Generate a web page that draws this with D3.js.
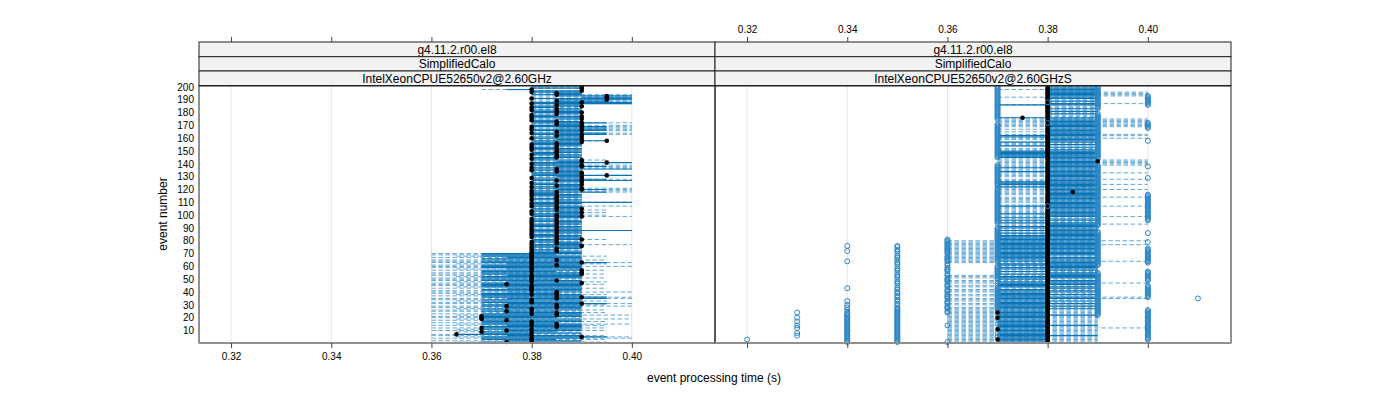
<!DOCTYPE html>
<html><head><meta charset="utf-8">
<script src="https://cdn.jsdelivr.net/npm/d3@7"></script>
<style>body{margin:0;background:#fff}svg{display:block}text{font-family:"Liberation Sans",Arial,Helvetica,sans-serif}</style>
</head><body><svg id="c" width="1400" height="400"></svg>
<script>
// ---------------- DATA (times in ms) ----------------
const eventNumbers = d3.range(1, 201);
const stripRelease = ["g4.11.2.r00.el8", "g4.11.2.r00.el8"];
const stripApp = ["SimplifiedCalo", "SimplifiedCalo"];
const stripCpu = ["IntelXeonCPUE52650v2@2.60GHz", "IntelXeonCPUE52650v2@2.60GHzS"];
const xTicks = [0.32, 0.34, 0.36, 0.38, 0.40];
const yTicks = [10,20,30,40,50,60,70,80,90,100,110,120,130,140,150,160,170,180,190,200];
const xLabel = "event processing time (s)";
const yLabel = "event number";

// Left panel: dashed range (min..max), solid range (q1..q3), median point
const leftMin = [365,360,370,360,365,360,360,370,365,360, 365,360,370,360,365,360,370,360,365,360, 360,365,360,370,360,360,365,360,360,370, 360,360,365,360,360,370,360,365,360,360, 360,370,360,365,360,360,360,365,360,360, 360,365,360,360,360,370,360,365,360,360, 360,365,360,360,360,370,360,365,360,360,
 380,380,380,380,380,380,380,380,380,380, 380,380,380,380,380,380,380,380,380,380, 380,380,380,380,380,380,380,380,380,380, 380,380,380,380,380,380,380,380,380,380, 380,380,380,380,380,380,380,380,380,380, 380,380,380,380,380,380,380,380,380,380, 380,380,380,380,380,380,380,380,380,380, 380,380,380,380,380,380,380,380,380,380, 380,380,380,380,380,380,380,380,380,380, 380,380,380,380,380,380,380,380,380,380, 380,380,380,380,380,380,380,380,380,380, 380,380,380,380,380,380,380,380,380,380, 380,380,380,380,380,380,380,370,380,380];
const leftQ1 = [370,375,370,370,370,375,365,370,370,375, 370,370,370,375,370,370,370,370,370,370, 370,370,370,375,370,370,370,375,370,370, 375,370,370,370,375,370,370,370,370,375, 370,370,375,370,370,370,370,375,370,370, 370,370,375,370,370,370,370,375,370,370, 370,375,370,370,370,370,375,370,370,370,
 380,380,380,385,380,380,380,385,380,380, 380,385,380,380,380,385,380,380,380,385, 380,380,380,385,380,380,380,385,380,380, 380,385,380,380,380,385,380,380,380,380, 385,380,380,385,380,380,380,380,380,385, 380,380,385,380,380,385,380,380,380,385, 380,380,380,385,380,380,380,385,380,380, 380,385,380,380,380,385,380,380,380,385, 380,380,380,385,380,380,380,380,385,380, 380,385,380,380,385,380,380,385,380,380, 385,380,380,380,385,380,380,380,385,380, 380,380,385,380,380,385,380,380,385,385, 380,390,385,380,385,380,380,375,380,380];
const leftMed = [375,380,380,380,390,380,365,380,370,375, 380,370,385,380,385,380,380,375,370,370, 370,385,380,385,375,380,380,385,375,385, 390,380,380,380,385,390,385,380,385,385, 380,380,380,380,380,375,390,380,385,380, 380,380,380,390,390,380,390,380,380,380, 385,380,390,380,385,380,380,380,380,380,
 380,385,380,385,380,390,380,385,380,385, 390,385,380,385,380,385,380,385,380,385, 380,385,380,385,380,385,380,385,390,385, 380,390,380,385,390,385,380,385,380,385, 385,380,385,385,380,385,380,385,380,390, 390,380,385,390,380,390,385,390,380,390, 395,390,390,385,380,385,380,390,390,380, 395,390,390,380,385,385,380,385,385,385, 380,385,380,385,380,385,390,395,390,380, 390,385,390,380,385,390,380,390,380,390, 385,390,385,380,390,380,390,380,385,390, 385,380,385,380,390,385,380,390,385,395, 380,395,395,385,385,380,390,380,390,390];
const leftQ3 = [390,390,385,390,395,390,380,390,385,390, 390,390,390,390,390,385,390,390,390,385, 390,390,390,390,385,390,390,390,390,390, 395,390,390,390,395,395,390,390,385,390, 390,390,390,390,390,390,390,390,390,385, 390,390,390,390,390,385,390,390,390,390, 390,390,395,390,390,390,390,390,385,390,
 390,390,385,390,390,390,390,390,390,385, 390,390,390,390,385,390,390,400,390,390, 390,385,390,390,390,390,385,390,390,390, 390,390,390,390,390,390,390,385,390,400, 390,390,385,390,390,390,385,395,390,395, 390,390,390,390,385,390,400,395,390,390, 400,390,390,390,390,400,390,395,390,390, 400,390,390,385,390,390,390,385,390,390, 390,390,385,390,390,390,390,395,390,390, 390,390,395,395,390,395,395,395,395,390, 390,395,390,385,390,390,390,385,390,390, 390,390,390,385,390,390,400,400,395,400, 400,400,400,390,390,390,390,380,390,390];
const leftMax = [395,390,395,400,400,395,390,390,390,395, 390,395,390,395,400,390,395,390,400,390, 390,400,390,395,390,395,390,390,400,395, 400,390,395,390,400,400,390,395,390,400, 390,390,395,390,390,395,390,395,390,390, 395,390,390,395,390,390,395,390,390,400, 390,395,400,390,395,390,390,395,390,390,
 390,390,390,390,390,390,400,390,390,390, 395,390,390,390,390,390,390,400,390,390, 390,390,390,390,390,390,390,390,400,395, 390,395,390,395,390,390,400,390,390,400, 390,390,390,390,390,390,390,400,400,400, 400,390,390,390,390,390,400,400,390,390, 400,390,390,390,390,400,400,400,400,390, 400,390,395,390,390,390,390,390,390,390, 390,390,390,390,390,390,390,395,390,390, 390,390,400,400,390,400,400,400,400,400, 390,400,390,390,390,390,390,390,390,390, 390,390,390,390,390,390,400,400,400,400, 400,400,400,400,390,390,390,380,390,390];

// Right panel
const rightMin = [360,360,360,360,360,360,360,360,360,360, 360,360,360,360,360,360,360,360,360,360, 360,360,360,360,360,360,360,360,370,360, 360,370,360,360,360,370,360,360,370,360, 360,360,370,360,360,370,360,360,360,370, 360,360,360,370,370,370,370,370,370,370, 370,370,360,360,360,360,360,360,360,360, 360,360,360,360,360,360,360,360,360,360,
 370,370,370,370,370,370,370,370,370,370, 370,370,370,370,370,370,370,370,370,370, 370,370,370,370,370,370,370,370,380,370, 370,370,370,370,380,370,370,370,370,370, 370,370,370,370,370,370,370,370,380,370, 370,370,370,370,370,370,370,370,370,370, 370,370,370,370,370,370,370,370,370,370, 370,370,380,370,370,370,370,380,370,370, 370,370,370,380,370,380,370,380,370,370, 370,370,370,370,370,370,380,380,380,380, 380,380,380,380,380,370,380,380,380,380, 380,370,380,380,380,380,380,370,380,380];
const rightQ1 = [370,370,370,370,370,370,370,370,370,370, 370,370,370,370,370,370,370,370,370,370, 370,370,370,370,370,370,370,370,370,370, 370,370,370,370,370,370,370,370,370,370, 370,370,380,370,370,370,370,370,380,370, 370,370,380,370,380,370,380,370,370,380, 370,370,380,370,370,370,370,370,370,370, 370,370,370,370,370,370,370,370,370,370,
 370,370,370,370,380,370,380,370,380,370, 370,380,380,370,380,370,380,370,380,380, 370,380,380,380,380,380,370,380,380,380, 380,380,380,380,380,380,380,380,380,380, 380,370,380,370,370,370,380,380,380,380, 380,380,380,370,380,380,370,380,380,380, 380,380,380,380,370,370,370,370,370,370, 380,380,380,370,380,380,370,380,380,380, 370,370,380,380,380,380,380,380,380,380, 380,380,380,380,380,370,380,380,380,380, 380,380,380,380,380,370,380,380,380,380, 380,380,380,380,380,380,380,380,380,380];
const rightMed = [380,380,370,380,380,380,380,380,380,380, 370,380,380,380,380,380,380,380,380,370, 380,380,380,370,380,380,380,380,380,380, 380,380,380,380,380,380,380,380,380,380, 380,380,380,380,380,380,380,380,380,380, 380,380,380,380,380,380,380,380,380,380, 380,380,380,380,380,380,380,380,380,380, 380,380,380,380,380,380,380,380,380,380,
 380,380,380,380,380,380,380,380,380,380, 380,380,380,380,380,380,380,380,380,380, 380,380,380,380,380,380,380,380,380,380, 380,380,380,380,380,380,380,385,380,380, 380,380,380,380,380,380,380,380,380,380, 380,380,380,380,380,380,380,380,380,380, 380,390,380,380,380,380,380,380,380,380, 380,380,380,380,380,380,380,380,380,380, 380,380,380,380,380,380,380,380,380,380, 380,380,380,380,380,375,380,380,380,380, 380,380,380,380,380,380,380,380,380,380, 380,380,380,380,380,380,380,380,380,380];
const rightQ3 = [380,380,380,380,380,390,380,380,380,380, 380,380,380,390,380,380,380,380,380,380, 380,390,380,380,380,380,390,380,390,380, 390,380,390,380,390,390,380,390,380,390, 390,380,390,390,380,390,390,390,390,380, 390,390,390,390,390,380,390,390,390,390, 390,390,390,390,390,390,390,380,390,390, 390,390,390,390,390,390,390,390,390,390,
 390,390,390,390,390,390,390,390,390,390, 390,390,390,390,380,390,390,380,390,390, 390,390,390,390,390,390,390,390,390,390, 390,390,390,390,390,390,390,390,390,390, 390,390,390,390,390,390,390,390,390,390, 390,390,390,390,390,390,390,390,390,390, 390,390,390,390,390,390,390,390,390,390, 390,380,390,380,390,380,390,390,390,390, 390,390,390,390,390,390,390,390,390,390, 390,390,390,390,390,390,380,380,390,380, 390,380,390,380,380,390,390,380,390,380, 390,390,390,390,390,390,390,390,390,390];
const rightMax = [390,390,390,390,390,390,390,390,390,390, 390,400,390,390,390,390,390,390,390,390, 390,390,390,390,390,390,390,390,390,390, 390,390,390,390,400,400,390,390,390,390, 390,390,390,390,390,390,400,390,390,390, 390,390,390,390,390,390,390,390,390,390, 390,390,390,400,390,390,390,390,390,390, 390,390,390,390,390,390,400,390,390,400,
 390,390,390,390,390,390,390,390,390,390, 390,390,400,390,390,390,390,390,400,390, 390,390,390,390,390,390,400,390,390,390, 390,390,390,400,390,390,390,390,390,400, 390,390,390,400,390,390,390,400,390,390, 390,390,400,390,390,390,390,390,400,400, 400,400,400,390,390,390,390,390,390,390, 390,390,390,390,390,390,390,390,390,400, 390,400,400,390,390,390,390,390,400,400, 400,400,400,400,400,390,390,390,390,390, 390,390,390,390,390,390,400,390,390,390, 390,390,400,400,400,400,390,390,390,390];

// Right panel: events with an individual (open circle) time value, per value
const circles320 = [3];
const circles330 = [6,8,12,14,17,20,24];
const circles340 = [1,2,3,4,5,6,7,8,9,10,11,12,13,14,15,16,17,18,19,20,21,22,23,24,26,28,30,33,43,64,72,76];
const circles350 = [1,2,3,4,5,6,7,8,9,10,11,12,13,14,15,16,17,18,19,20,21,22,23,24,25,26,27,28,30,31,33,34,36,37,39,40,42,43,45,47,48,50,52,53,55,57,58,60,62,63,65,67,68,70,72,73,75,76];
const circles360 = [1,14,24,25,27,28,29,31,32,33,35,36,37,38,40,41,42,44,45,46,48,49,50,51,53,54,56,57,58,59,61,62,64,65,66,67,68,70,71,72,73,74,75,76,77,78,79,80,81];
const circles370 = [5,8,15,19,23,26,27,28,29,30,31,32,33,34,35,36,37,38,39,40,41,42,43,45,47,50,51,52,53,54,55,56,57,58,59,60,64,65,66,67,68,69,70,71,72,73,74,75,76,77,78,79,80,81,82,83,84,85,86,87,88,89,90,94,95,96,97,98,99,100,101,102,103,104,105,106,107,108,109,110,111,112,113,114,115,116,117,118,119,120,121,123,124,125,126,127,128,129,130,131,132,133,134,135,136,137,138,139,145,146,147,148,149,150,151,152,153,154,155,156,157,158,159,160,161,162,163,164,165,166,167,168,169,170,171,175,176,177,178,179,180,181,182,183,184,185,186,187,188,189,190,191,192,193,194,195,196,197,198,199,200];
const circles380 = [107,172,188];
const circles390 = [22,23,24,25,26,27,28,29,30,31,32,33,34,35,36,37,38,39,40,41,42,43,44,45,46,47,48,49,50,51,52,53,54,55,61,62,63,64,65,66,67,68,69,70,71,72,73,74,75,76,77,78,79,80,81,82,83,84,85,86,87,92,93,94,95,96,97,98,99,100,101,102,103,104,105,106,107,108,109,110,111,112,113,114,115,116,117,118,119,120,121,122,123,124,125,126,127,128,129,130,131,132,133,134,135,136,137,138,139,144,145,146,147,148,149,150,151,152,153,154,155,156,157,158,159,160,161,162,163,164,165,166,167,168,169,170,171,172,173,174,175,176,177,178,179,183,184,185,186,187,188,189,190,191,192,193,194,195,196,197,198,199,200];
const circles400 = [3,4,5,6,7,8,9,10,11,12,13,14,15,16,17,18,19,20,21,22,23,24,25,26,36,37,38,39,40,41,42,43,44,45,49,50,51,52,53,54,55,56,63,64,65,66,67,68,69,70,71,72,73,74,79,86,96,97,98,99,100,101,102,103,104,105,106,107,108,109,110,111,112,113,114,115,116,129,138,158,168,169,170,171,172,186,187,188,189,190,191,192,193];
const circles410 = [35];

// ---------------- DRAWING ----------------
const svg = d3.select("#c");
const BLUE = "#0a74b6";
const plotTop = 86, plotBottom = 343;
const panelRanges = [[199, 715], [715, 1231]];
const xDomain = [0.3136, 0.4166];
const y = d3.scaleLinear().domain([0.25, 200.75]).range([plotBottom, plotTop]);
const xs = panelRanges.map(r => d3.scaleLinear().domain(xDomain).range(r));

const stripTops = [42, 56.7, 71, 85.5];
const stripTexts = [stripRelease, stripApp, stripCpu];

function segs(g, x, lo, hi, dashed) {
  const d = eventNumbers.map((e, i) => ({e, a: lo[i] / 1000, b: hi[i] / 1000})).filter(s => s.b > s.a);
  g.append("g").selectAll("line").data(d).join("line")
    .attr("x1", s => x(s.a)).attr("x2", s => x(s.b))
    .attr("y1", s => y(s.e)).attr("y2", s => y(s.e))
    .attr("stroke", dashed ? "#3d92cf" : BLUE)
    .attr("stroke-width", dashed ? 1 : 1.15)
    .attr("stroke-dasharray", dashed ? "4.5,2.5" : null)
    .attr("stroke-opacity", dashed ? 0.8 : 1);
}
function blackPts(g, x, med) {
  g.append("g").selectAll("circle").data(eventNumbers).join("circle")
    .attr("cx", (e, i) => x(med[i] / 1000)).attr("cy", e => y(e))
    .attr("r", 2.3).attr("fill", "#000");
}
function openPts(g, x, list, v) {
  g.append("g").selectAll("circle").data(list).join("circle")
    .attr("cx", x(v)).attr("cy", e => y(e))
    .attr("r", 2.5).attr("fill", "none").attr("stroke", "#2a86c6").attr("stroke-width", 1);
}

panelRanges.forEach((r, p) => {
  const x = xs[p];
  const g = svg.append("g");
  // grid
  g.append("g").selectAll("line").data(xTicks).join("line")
    .attr("x1", d => x(d)).attr("x2", d => x(d)).attr("y1", plotTop).attr("y2", plotBottom)
    .attr("stroke", "#e6e6e6").attr("stroke-width", 1);
  if (p === 0) {
    segs(g, x, leftMin, leftMax, true);
    segs(g, x, leftQ1, leftQ3, false);
    blackPts(g, x, leftMed);
  } else {
    segs(g, x, rightMin, rightMax, true);
    segs(g, x, rightQ1, rightQ3, false);
    [[circles320,0.32],[circles330,0.33],[circles340,0.34],[circles350,0.35],[circles360,0.36],[circles370,0.37],[circles390,0.39],[circles400,0.40],[circles410,0.41]]
      .forEach(([l, v]) => openPts(g, x, l, v));
    blackPts(g, x, rightMed);
    openPts(g, x, circles380, 0.38);
  }
  // panel border
  g.append("rect").attr("x", r[0]).attr("y", plotTop).attr("width", r[1] - r[0]).attr("height", plotBottom - plotTop)
    .attr("fill", "none").attr("stroke", "#222").attr("stroke-width", 1);
  g.append("line").attr("x1", r[0]).attr("x2", r[1]).attr("y1", plotBottom).attr("y2", plotBottom)
    .attr("stroke", "#8f8f8f").attr("stroke-width", 2);
  // strips
  stripTexts.forEach((labels, k) => {
    g.append("rect").attr("x", r[0]).attr("y", stripTops[k]).attr("width", r[1] - r[0])
      .attr("height", stripTops[k + 1] - stripTops[k]).attr("fill", "#f2f2f2").attr("stroke", "#222");
    g.append("text").attr("x", (r[0] + r[1]) / 2).attr("y", (stripTops[k] + stripTops[k + 1]) / 2 + 4.3)
      .attr("text-anchor", "middle").attr("font-size", 12).text(labels[p]);
  });
  // bottom axis
  const ab = d3.axisBottom(x).tickValues(xTicks).tickSize(5).tickPadding(5)
    .tickFormat(p === 0 ? d3.format(".2f") : () => "");
  const gb = g.append("g").attr("transform", `translate(0,${plotBottom})`).call(ab);
  // top axis
  const at = d3.axisTop(x).tickValues(xTicks).tickSize(5).tickPadding(4)
    .tickFormat(p === 1 ? d3.format(".2f") : () => "");
  const gt = g.append("g").attr("transform", `translate(0,${stripTops[0]})`).call(at);
  [gb, gt].forEach(a => {
    a.select(".domain").remove();
    a.selectAll(".tick line").attr("stroke", "#444");
    a.selectAll(".tick text").attr("font-size", 10).attr("fill", "#000")
      .attr("font-family", "Liberation Sans, Arial, sans-serif");
  });
});

// y axis (left)
const ay = d3.axisLeft(y).tickValues(yTicks).tickSize(0).tickPadding(5);
const gy = svg.append("g").attr("transform", `translate(${panelRanges[0][0]},0)`).call(ay);
gy.select(".domain").remove();
gy.selectAll(".tick text").attr("font-size", 10).attr("fill", "#000").attr("font-family", "Liberation Sans, Arial, sans-serif");

// axis titles
svg.append("text").attr("x", 714).attr("y", 382).attr("text-anchor", "middle").attr("font-size", 12).text(xLabel);
svg.append("text").attr("transform", "translate(167,214) rotate(-90)").attr("text-anchor", "middle").attr("font-size", 12).text(yLabel);
</script></body></html>
